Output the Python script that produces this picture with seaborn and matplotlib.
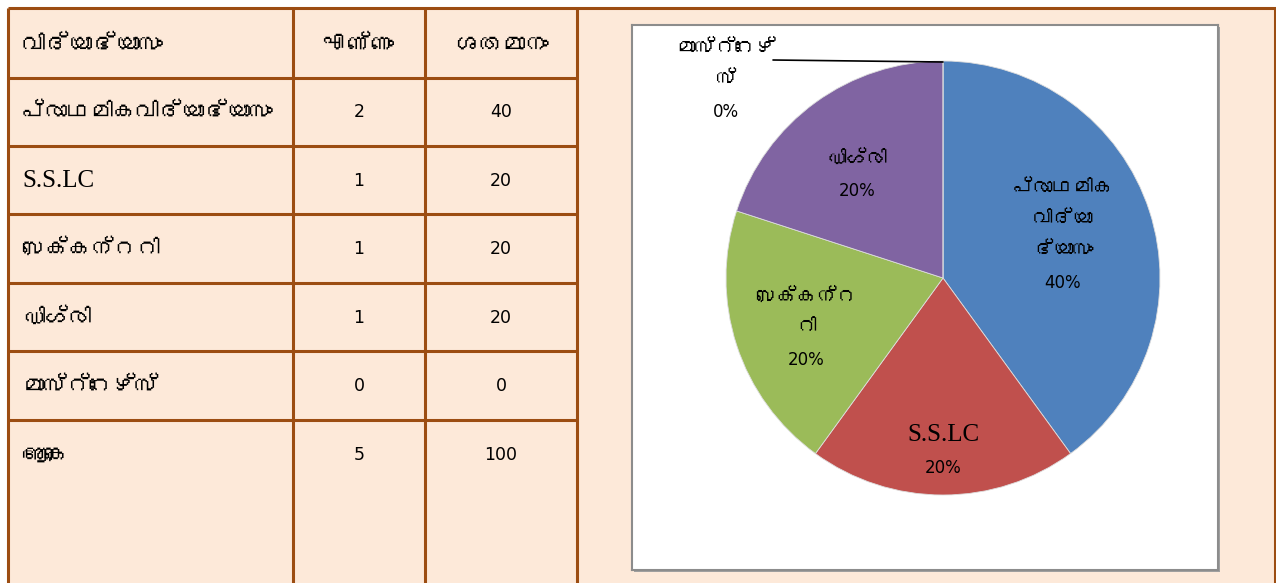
import matplotlib
matplotlib.use("Agg")
import matplotlib.pyplot as plt
from matplotlib import font_manager
from matplotlib.ft2font import FT2Font
import seaborn as sns

sns.set_theme(style="white")

# find an installed family that covers Malayalam
def find_families(codepoint):
    fams = []
    for fe in font_manager.fontManager.ttflist:
        try:
            f = FT2Font(fe.fname)
            if codepoint in f.get_charmap():
                if fe.name not in fams:
                    fams.append(fe.name)
        except Exception:
            pass
    return fams

ml_fams = find_families(0x0D35)
ml_font = ml_fams[:1] + ['DejaVu Sans']
plt.rcParams['font.family'] = ['DejaVu Sans']
plt.rcParams['text.color'] = 'black'

# ---- data ----
header = ["വിദ്യാഭ്യാസം", "എണ്ണം", "ശതമാനം"]
categories = ["പ്രാഥമികവിദ്യാഭ്യാസം", "S.S.LC", "സെക്കന്ററി", "ഡിഗ്രി", "മാസ്റ്റേഴ്സ്", "ആകെ"]
counts = [2, 1, 1, 1, 0, 5]
percents = [40, 20, 20, 20, 0, 100]

pie_labels = ["പ്രാഥമിക\nവിദ്യാ\nഭ്യാസം", "S.S.LC", "സെക്കന്റ\nറി", "ഡിഗ്രി", "മാസ്റ്റേഴ്\nസ്"]
pie_values = [40, 20, 20, 20, 0]
pie_colors = ["#4F81BD", "#C0504D", "#9BBB59", "#8064A2", "#4BACC6"]

W, H = 1276, 583
fig = plt.figure(figsize=(W / 100, H / 100), dpi=100)
fig.patch.set_facecolor("white")

bg = fig.add_axes([0, 0, 1, 1])
bg.set_xlim(0, W)
bg.set_ylim(H, 0)
bg.axis("off")

border = "#9C4D12"
bg.add_patch(plt.Rectangle((8, 8), W - 8, H, facecolor="#FDE9D9", edgecolor="none", zorder=0))
hlines = [8, 78, 146, 214, 283, 351, 420]
for i, y in enumerate(hlines):
    x1 = W if i == 0 else 577
    bg.plot([8, x1], [y, y], color=border, lw=2.2, solid_capstyle="butt", zorder=2)
for x in [8, 293, 425, 577, 1275]:
    bg.plot([x, x], [8, H], color=border, lw=2.2, solid_capstyle="butt", zorder=2)

row_y = [45, 112, 181, 249, 318, 386, 455]
bg.text(22, row_y[0], header[0], fontsize=17, va="center", ha="left", family=ml_font)
bg.text(359, row_y[0], header[1], fontsize=17, va="center", ha="center", family=ml_font)
bg.text(501, row_y[0], header[2], fontsize=17, va="center", ha="center", family=ml_font)
for i, (c, n, p) in enumerate(zip(categories, counts, percents)):
    y = row_y[i + 1]
    if c.isascii():
        bg.text(22, y, c, fontsize=18, va="center", ha="left", family="Liberation Serif")
    else:
        bg.text(22, y, c, fontsize=16.5, va="center", ha="left", family=ml_font)
    bg.text(359, y, str(n), fontsize=12.5, va="center", ha="center")
    bg.text(501, y, str(p), fontsize=12.5, va="center", ha="center")

# ---- pie ----
x0, x1, y0, y1 = 632, 1218, 25, 570
bg.add_patch(plt.Rectangle((x0 + 2, y0 + 2), x1 - x0, y1 - y0, facecolor="#A0A0A0", edgecolor="none", zorder=3))
pax = fig.add_axes([x0 / W, 1 - y1 / H, (x1 - x0) / W, (y1 - y0) / H])
pax.set_facecolor("white")

cx, cy, r = 943, H - 278, 217
wedges, _ = pax.pie(pie_values, colors=pie_colors, startangle=90, counterclock=False,
                    center=(cx, cy), radius=r, frame=True,
                    wedgeprops=dict(linewidth=0.6, edgecolor="#DDDDDD"))
pax.set_xlim(x0, x1)
pax.set_ylim(H - y1, H - y0)
pax.set_aspect("auto")
pax.set_xticks([])
pax.set_yticks([])
for s in pax.spines.values():
    s.set_visible(True)
    s.set_color("#8C8C8C")
    s.set_linewidth(1.5)

# label anchor: (center x, y of first line) in pixels
lab_pos = [(1063, 188), (943, 435), (806, 296), (857, 158), (726, 48)]
step = 31
for (lx, ly), lab, v in zip(lab_pos, pie_labels, pie_values):
    lines = lab.split("\n")
    for k, line in enumerate(lines):
        if line.isascii():
            pax.text(lx, H - (ly + k * step), line, fontsize=18, ha="center", va="center",
                     family="Liberation Serif")
        else:
            pax.text(lx, H - (ly + k * step), line, fontsize=14.5, ha="center", va="center",
                     family=ml_font)
    pax.text(lx, H - (ly + len(lines) * step + 2), f"{v}%", fontsize=12, ha="center", va="center")

pax.plot([773, 943], [H - 60, H - 62], color="black", lw=1.2)

fig.savefig("out.png", dpi=100)
